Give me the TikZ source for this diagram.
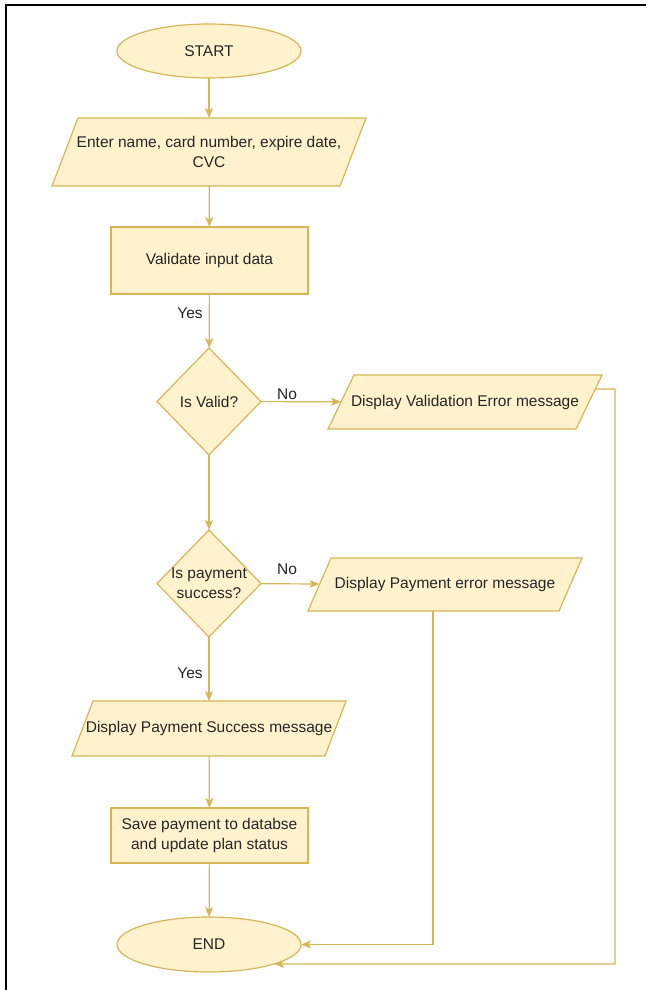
\documentclass[tikz,border=0pt]{standalone}
\usepackage{fontspec}
\setmainfont{Liberation Sans}
\usetikzlibrary{shapes.geometric,arrows.meta,calc,backgrounds}
\definecolor{boxfill}{HTML}{FFF2CC}
\definecolor{boxline}{HTML}{D6B656}
\definecolor{ink}{HTML}{262626}

% outline of a data (input/output) box drawn behind its node:
% #1 node name, #2 half of the horizontal slant
\newcommand\drawpara[2]{%
  \begin{scope}[on background layer]
    \draw[paraline] ([xshift=#2]#1.north west) coordinate (#1-tl)
      -- ([xshift=#2]#1.north east) coordinate (#1-tr)
      -- ([xshift=-#2]#1.south east) coordinate (#1-br)
      -- ([xshift=-#2]#1.south west) coordinate (#1-bl) -- cycle;
  \end{scope}}

\begin{document}
\begin{tikzpicture}[x=1pt,y=-1pt,
  font=\fontsize{15.5}{20}\selectfont,
  shapebase/.style={draw=boxline, fill=boxfill, line width=1.2pt, inner sep=0pt, outer sep=0pt, text=ink},
  terminal/.style={shapebase, ellipse, minimum width=184pt, minimum height=54pt},
  process/.style={shapebase, rectangle, minimum width=197pt, align=center},
  iobox/.style={rectangle, inner sep=0pt, outer sep=0pt, text=ink, align=center},
  paraline/.style={draw=boxline, fill=boxfill, line width=1.2pt, line join=miter},
  decision/.style={shapebase, diamond, minimum width=104pt, minimum height=107pt},
  inside/.style={align=center, text=ink, inner sep=0pt},
  conn/.style={draw=boxline, line width=1.2pt, -{Stealth[length=10pt,width=8pt,inset=2.5pt]}},
  tag/.style={text=ink, inner sep=0pt},
]
\useasboundingbox (0,0) rectangle (646,990);

% page frame (top and left edges)
\draw[line width=2pt, black] (646,5) -- (6,5) -- (6,990);

% main column
\node[terminal] (start) at (209,51) {START};
\node[iobox, minimum width=288pt, minimum height=68pt] (input) at (209,152)
  {Enter name, card number, expire date,\\CVC};
\drawpara{input}{13pt}
\node[process, minimum height=67pt] (validate) at (209.5,260.5) {Validate input data};
\node[decision, label={[inside]center:Is Valid?}] (valid) at (209,401.5) {};
\node[decision, label={[inside]center:{Is payment\\success?}}] (paydia) at (209,583.5) {};
\node[iobox, minimum width=253pt, minimum height=55pt] (success) at (209,728.5)
  {Display Payment Success message};
\drawpara{success}{10.5pt}
\node[process, minimum height=55pt] (save) at (209.5,835.5) {Save payment to databse\\and update plan status};
\node[terminal, minimum height=55pt] (end) at (209,944.5) {END};

% error outputs
\node[iobox, minimum width=248pt, minimum height=54pt] (valerr) at (465,402)
  {Display Validation Error message};
\drawpara{valerr}{13pt}
\node[iobox, minimum width=251pt, minimum height=53pt] (payerr) at (445,584.5)
  {Display Payment error message};
\drawpara{payerr}{11.5pt}

% branch labels
\node[tag] (yes1) at (190,313) {Yes};
\node[tag] (yes2) at (190,673) {Yes};
\node[tag] (no1) at (287,394) {No};
\node[tag] (no2) at (287,569) {No};

% connectors
\draw[conn] (start) -- (input);
\draw[conn] (input) -- (validate);
\draw[conn] (validate) -- (valid);
\draw[conn] (valid) -- (paydia);
\draw[conn] (paydia) -- (success);
\draw[conn] (success) -- (save);
\draw[conn] (save) -- (end);
\draw[conn] (valid) -- (valerr);
\draw[conn] (paydia) -- (payerr);
\draw[conn] ([xshift=-12pt]payerr.south) |- (end.east);
\coordinate (vx) at ($(valerr-tr)!0.26!(valerr-br)$);
\coordinate (rail) at (615,389);
\draw[conn] (vx) -- (rail) |- (end.south east);
\end{tikzpicture}
\end{document}
